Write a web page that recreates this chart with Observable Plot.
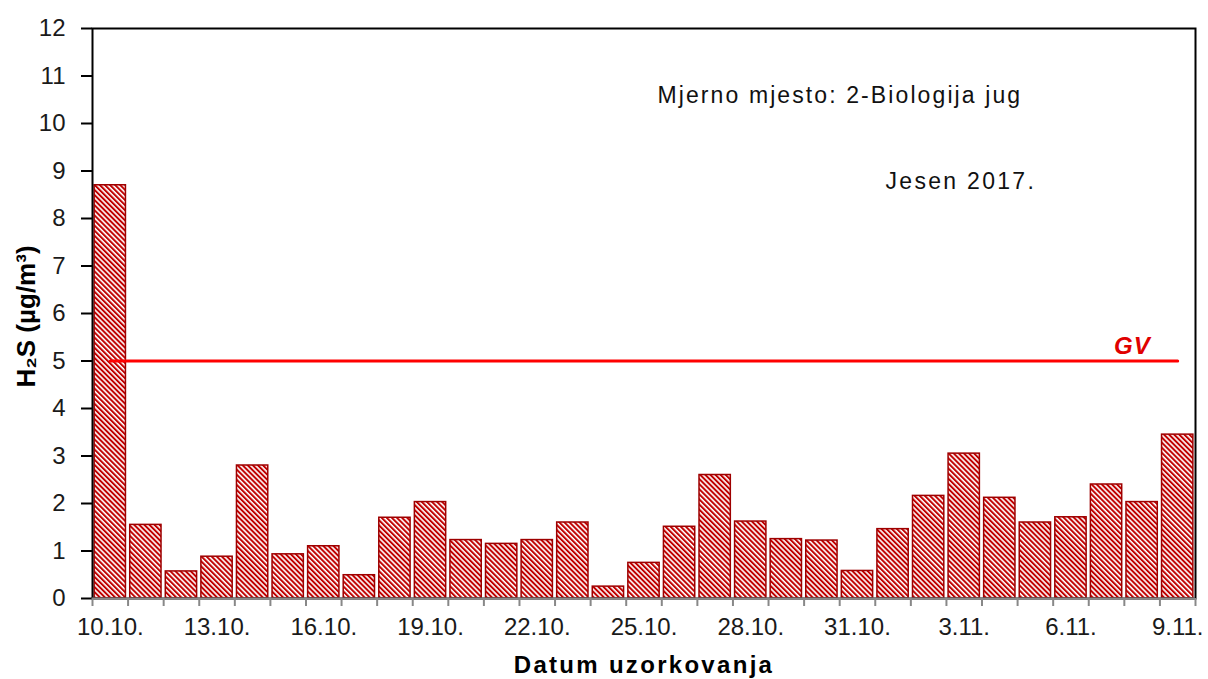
<!DOCTYPE html>
<html><head><meta charset="utf-8">
<script src="https://cdn.jsdelivr.net/npm/d3@7"></script>
<script src="https://cdn.jsdelivr.net/npm/@observablehq/plot@0.6"></script>
<style>body{margin:0;background:#fff;}</style>
</head><body><div id="chart"></div>
<script>
const dates = ["10.10.","11.10.","12.10.","13.10.","14.10.","15.10.","16.10.","17.10.","18.10.","19.10.","20.10.","21.10.","22.10.","23.10.","24.10.","25.10.","26.10.","27.10.","28.10.","29.10.","30.10.","31.10.","1.11.","2.11.","3.11.","4.11.","5.11.","6.11.","7.11.","8.11.","9.11."];
const values = [8.7,1.55,0.57,0.88,2.8,0.93,1.1,0.49,1.7,2.03,1.23,1.15,1.23,1.6,0.25,0.75,1.51,2.6,1.62,1.25,1.22,0.58,1.46,2.16,3.05,2.12,1.6,1.71,2.4,2.03,3.45];
const tickLabels = ["10.10.","13.10.","16.10.","19.10.","22.10.","25.10.","28.10.","31.10.","3.11.","6.11.","9.11."];
const yTicks = [0,1,2,3,4,5,6,7,8,9,10,11,12];
const gvValue = 5;
const gvLabel = "GV";
const noteSite = "Mjerno mjesto: 2-Biologija jug";
const noteSeason = "Jesen 2017.";
const xLabel = "Datum uzorkovanja";
const yLabel = "H\u2082S (\u00b5g/m\u00b3)";

const data = dates.map((d, i) => ({date: d, value: values[i]}));
const gvLine = [{date: dates[0], v: gvValue}, {date: dates[dates.length - 1], v: gvValue}];

const W = 1208, H = 679, mL = 92, mR = 13, mT = 28, mB = 81;
const step = (W - mL - mR) / dates.length;

const chart = Plot.plot({
  width: W, height: H,
  marginLeft: mL, marginRight: mR, marginTop: mT, marginBottom: mB,
  style: {fontFamily: "'Liberation Sans', Arial, sans-serif", background: "white", color: "#1a1a1a"},
  x: {type: "band", domain: dates, paddingInner: 0.12, paddingOuter: 0.06, round: false, axis: null},
  y: {domain: [0, 12], axis: null},
  marks: [
    Plot.barY(data, {x: "date", y: "value", fill: "url(#hatch)", stroke: "#9e0000", strokeWidth: 1.5}),
    Plot.frame({stroke: "#000", strokeWidth: 2}),
    Plot.ruleY([0], {stroke: "#888", strokeWidth: 2}),
    Plot.axisY({ticks: yTicks, tickSize: 11, tickPadding: 16, fontSize: 24, stroke: "#000", strokeWidth: 2, label: null}),
    Plot.axisX({ticks: dates, tickSize: 8, tickPadding: 0, tickFormat: () => "", stroke: "#888", strokeWidth: 2, dx: -step / 2, label: null}),
    Plot.axisX({ticks: [dates[dates.length - 1]], tickSize: 8, tickPadding: 0, tickFormat: () => "", stroke: "#888", strokeWidth: 2, dx: step / 2, label: null}),
    Plot.axisX({ticks: tickLabels, tickSize: 0, tickPadding: 19, fontSize: 24, label: null}),
    Plot.line(gvLine, {x: "date", y: "v", stroke: "#ff0000", strokeWidth: 3}),
    Plot.text([gvLabel], {x: () => dates[dates.length - 1], y: () => gvValue, text: d => d, textAnchor: "end", lineAnchor: "bottom", dx: -27, dy: -7, fill: "#e00000", fontWeight: "bold", fontStyle: "italic", fontSize: 24}),
    Plot.text([noteSite], {frameAnchor: "top-left", textAnchor: "start", lineAnchor: "bottom", dx: 657 - mL, dy: 102 - mT, fontSize: 23, fill: "#111"}),
    Plot.text([noteSeason], {frameAnchor: "top-left", textAnchor: "start", lineAnchor: "bottom", dx: 885 - mL, dy: 188 - mT, fontSize: 23, fill: "#111"}),
    Plot.text([xLabel], {frameAnchor: "bottom", textAnchor: "middle", lineAnchor: "bottom", dy: 74, fontSize: 24, fontWeight: "bold", fill: "#000"}),
    Plot.text([yLabel], {frameAnchor: "left", textAnchor: "middle", lineAnchor: "middle", rotate: -90, dx: -66, dy: 3, fontSize: 26, fontWeight: "bold", fill: "#000"})
  ]
});

const svg = d3.select(chart);
const defs = svg.insert("defs", ":first-child");
const pat = defs.append("pattern")
  .attr("id", "hatch")
  .attr("patternUnits", "userSpaceOnUse")
  .attr("width", 3.6).attr("height", 3.6)
  .attr("patternTransform", "rotate(-45)");
pat.append("rect").attr("width", 3.6).attr("height", 3.6).attr("fill", "#ffffff");
pat.append("rect").attr("width", 2).attr("height", 3.6).attr("fill", "#c00000");

const spacing = {[noteSite]: "2.1px", [noteSeason]: "2.3px", [xLabel]: "2.3px", [gvLabel]: "1px"};
svg.selectAll("text").each(function () {
  const s = spacing[this.textContent];
  if (s) this.style.letterSpacing = s;
});

document.getElementById("chart").appendChild(chart);
</script>
</body></html>
